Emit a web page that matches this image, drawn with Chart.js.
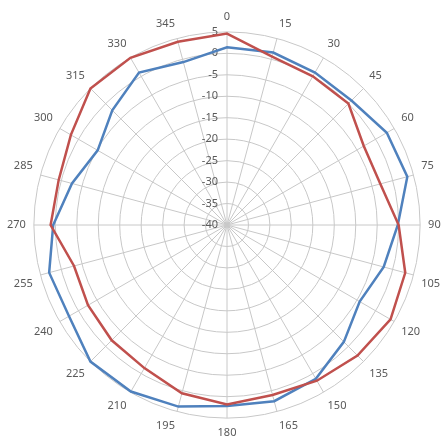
<!DOCTYPE html>
<html>
<head>
<meta charset="utf-8">
<script src="https://cdn.jsdelivr.net/npm/chart.js@4.4.0/dist/chart.umd.min.js"></script>
<style>
  html, body { margin: 0; padding: 0; background: #fff; overflow: hidden; }
  #wrap { width: 441px; height: 438px; margin-left: 4px; margin-top: 6px; }
</style>
</head>
<body>
<div id="wrap"><canvas id="chart"></canvas></div>
<script>
const angles = ["0", "15", "30", "45", "60", "75", "90", "105", "120", "135", "150", "165",
                "180", "195", "210", "225", "240", "255", "270", "285", "300", "315", "330", "345"];
const redValues = [4.6, 0.6, 0, 0, -3.2, -3.0, 0, 3.0, 4.0, 3.0, 1.9, 1.0,
                   1.8, 0.6, -1.5, -2.0, -2.6, -3.1, 1.1, 0.6, 2.0, 5.0, 5.0, 4.2];
const blueValues = [1.4, 1.6, 1.0, 1.0, 3.0, 3.5, -0.2, -2.2, -4.3, -1.5, 1.4, 2.5,
                    2.2, 3.8, 4.8, 5.0, 2.5, 2.9, 0.5, -2.6, -5.2, -2.2, 1.0, -0.7];
const radialMin = -40;
const radialMax = 5;
const radialStep = 5;

const labelColor = "#595959";
const gridColor = "#c8c8c8";

// tick labels sit just left of the 0 spoke, right aligned
const tickLabels = {
    id: "tickLabels",
    beforeDatasetsDraw(chart) {
        const scale = chart.scales.r;
        const ctx = chart.ctx;
        ctx.save();
        ctx.font = "11px 'Noto Sans'";
        ctx.fillStyle = labelColor;
        ctx.textAlign = "right";
        ctx.textBaseline = "middle";
        scale.ticks.forEach((t) => {
            const d = scale.getDistanceFromCenterForValue(t.value);
            ctx.fillText(String(t.value), scale.xCenter - 9, scale.yCenter - d);
        });
        ctx.restore();
    },
};

new Chart(document.getElementById("chart"), {
    type: "radar",
    data: {
        labels: angles,
        datasets: [
            {
                label: "red",
                data: redValues,
                borderColor: "#c0504d",
                borderWidth: 2.5,
                pointRadius: 0,
                fill: false,
            },
            {
                label: "blue",
                data: blueValues,
                borderColor: "#4f81bd",
                borderWidth: 2.5,
                pointRadius: 0,
                fill: false,
            },
        ],
    },
    options: {
        responsive: true,
        maintainAspectRatio: false,
        animation: false,
        layout: { padding: 0 },
        plugins: {
            legend: { display: false },
            tooltip: { enabled: false },
        },
        scales: {
            r: {
                min: radialMin,
                max: radialMax,
                ticks: { stepSize: radialStep, display: false },
                grid: { circular: true, color: gridColor, lineWidth: 1 },
                angleLines: { color: gridColor, lineWidth: 1 },
                pointLabels: {
                    color: labelColor,
                    font: { family: "'Noto Sans'", size: 11 },
                    padding: 8,
                },
            },
        },
    },
    plugins: [tickLabels],
});
</script>
</body>
</html>
